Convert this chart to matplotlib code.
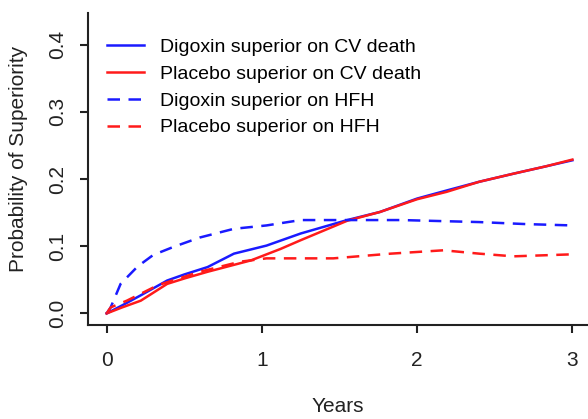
import matplotlib
matplotlib.use("Agg")
import matplotlib.pyplot as plt

plt.rcParams['font.family'] = ['Liberation Sans', 'DejaVu Sans']

# Digoxin superior on CV death (solid blue)
dig_cv_years = [0, 0.1, 0.22, 0.39, 0.5, 0.65, 0.82, 1.03, 1.25, 1.55, 1.76, 2.0, 2.19, 2.4, 2.62, 2.83, 3.0]
dig_cv_prob = [0, 0.012, 0.027, 0.049, 0.058, 0.069, 0.089, 0.101, 0.119, 0.139, 0.151, 0.171, 0.183, 0.196, 0.208, 0.219, 0.228]

# Placebo superior on CV death (solid red)
pla_cv_years = [0, 0.1, 0.22, 0.39, 0.5, 0.65, 0.93, 1.12, 1.25, 1.55, 1.76, 2.0, 2.19, 2.4, 2.62, 2.83, 3.0]
pla_cv_prob = [0, 0.009, 0.019, 0.044, 0.052, 0.062, 0.079, 0.096, 0.109, 0.138, 0.151, 0.170, 0.181, 0.196, 0.208, 0.219, 0.229]

# Digoxin superior on HFH (dashed blue)
dig_hfh_years = [0, 0.026, 0.09, 0.2, 0.3, 0.43, 0.6, 0.82, 1.03, 1.25, 1.5, 1.9, 2.4, 2.7, 3.0]
dig_hfh_prob = [0, 0.009, 0.044, 0.07, 0.087, 0.099, 0.113, 0.126, 0.131, 0.139, 0.139, 0.139, 0.136, 0.133, 0.131]

# Placebo superior on HFH (dashed red)
pla_hfh_years = [0, 0.026, 0.13, 0.33, 0.6, 0.86, 1.03, 1.25, 1.46, 1.83, 2.17, 2.4, 2.62, 3.0]
pla_hfh_prob = [0, 0.009, 0.019, 0.042, 0.062, 0.077, 0.082, 0.082, 0.082, 0.089, 0.094, 0.089, 0.085, 0.088]

labels = ["Digoxin superior on CV death", "Placebo superior on CV death",
          "Digoxin superior on HFH", "Placebo superior on HFH"]
x_ticks = [0, 1, 2, 3]
y_ticks = [0.0, 0.1, 0.2, 0.3, 0.4]

W, H = 588, 419
fig = plt.figure(figsize=(W / 100, H / 100), dpi=100)
ax = fig.add_axes([88 / W, (H - 325) / H, 503 / W, 312 / H])

lw = 1.8
dash = (5, 3.4)
ax.plot(dig_cv_years, dig_cv_prob, color='#1a1aff', lw=lw, label=labels[0])
ax.plot(pla_cv_years, pla_cv_prob, color='#ff1a1a', lw=lw, label=labels[1])
ax.plot(dig_hfh_years, dig_hfh_prob, color='#1a1aff', lw=lw, dashes=dash, label=labels[2])
ax.plot(pla_hfh_years, pla_hfh_prob, color='#ff1a1a', lw=lw, dashes=dash, label=labels[3])

ax.set_xlim(-0.12, 3.12)
ax.set_ylim(-0.0172, 0.4472)
ax.set_xticks(x_ticks)
ax.set_xticklabels([str(t) for t in x_ticks])
ax.set_yticks(y_ticks)
ax.set_yticklabels(["%.1f" % t for t in y_ticks], rotation=90, va='center')

for s in ['top', 'right']:
    ax.spines[s].set_visible(False)
for s in ['left', 'bottom']:
    ax.spines[s].set_linewidth(1.5)
    ax.spines[s].set_color('#222222')

ax.tick_params(axis='both', direction='out', length=6, width=1.5, color='#222222',
               labelsize=15, labelcolor='#222222')
ax.tick_params(axis='x', pad=12.5)
ax.tick_params(axis='y', pad=9)

ax.set_xlabel("Years", fontsize=15, color='#222222')
ax.xaxis.set_label_coords((338 - 88) / 503, -(397 - 325) / 312)
ax.set_ylabel("Probability of Superiority", fontsize=15, color='#222222')
ax.yaxis.set_label_coords(-(88 - 28) / 503, (325 - 159) / 312)

ax.legend(loc='upper left', bbox_to_anchor=(0.01, 0.962), frameon=False, fontsize=14,
          handlelength=1.9, handletextpad=0.85, labelspacing=0.47, borderaxespad=0.3)

fig.savefig("out.png", dpi=100)
